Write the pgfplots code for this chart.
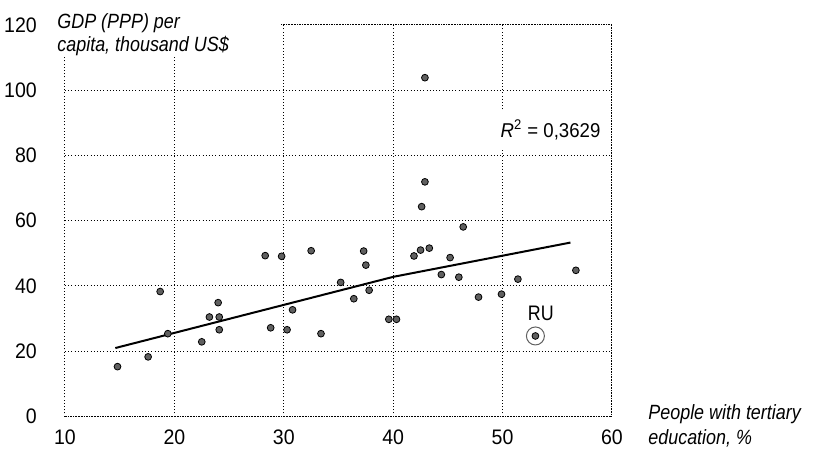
\documentclass[border=0pt]{standalone}
\usepackage{pgfplots}
\pgfplotsset{compat=1.18}
\usepackage{fontspec}
\setmainfont{Liberation Sans}
\newfontfamily\condlab{Liberation Sans}[FakeStretch=0.87]
\newfontfamily\condtick{Liberation Sans}[FakeStretch=0.93]
\newfontfamily\condru{Liberation Sans}[FakeStretch=0.85]
\definecolor{dotgray}{RGB}{96,96,96}
\pgfplotstableread{
x y
14.8 15.3
17.6 18.3
18.7 38.3
19.4 25.4
22.5 22.9
23.2 30.5
24.0 34.9
24.1 30.5
24.1 26.6
28.3 49.3
29.8 49.1
32.5 50.8
37.3 50.7
37.5 46.4
35.2 41.1
37.8 38.7
36.4 36.1
30.8 32.7
28.8 27.2
30.3 26.6
33.4 25.4
39.6 29.8
40.3 29.8
41.9 49.2
42.5 51.0
43.3 51.6
44.4 43.5
45.2 48.7
46.0 42.7
47.8 36.6
49.9 37.5
51.4 42.1
56.7 44.8
42.9 103.8
42.9 71.9
42.6 64.3
46.4 58.1
53.0 24.7
}\gdpdata
\pgfplotstableread{
x y
14.6 21.0
40.0 42.8
56.2 53.3
}\trenddata
\begin{document}
\begin{tikzpicture}[x=1pt,y=1pt]
\useasboundingbox (-32.5,-16.7) rectangle (375,208.3);
\begin{axis}[
  at={(0,0)}, anchor=south west,
  scale only axis, width=273.5pt, height=195.9pt,
  xmin=10, xmax=60, ymin=0, ymax=120,
  xtick={10,20,...,60}, ytick={0,20,...,120},
  grid=major,
  major grid style={black, line width=0.5pt, dash pattern=on 0.5pt off 1.1pt},
  axis line style={black, line width=0.5pt, dash pattern=on 0.5pt off 1.1pt},
  major tick length=0pt,
  tick label style={font=\condtick\fontsize{10.5}{12}\selectfont},
  /pgf/number format/assume math mode=true,
  yticklabel style={xshift=-10.6pt},
  xticklabel style={yshift=-3.3pt},
  clip=false,
]
\fill[white] (axis cs:9,110) rectangle (axis cs:29.7,125);
\addplot[black, line width=1pt] table[x=x,y=y] {\trenddata};
\addplot[only marks, mark=*, mark size=1.7pt, mark options={draw=none, fill=dotgray}] table[x=x,y=y] {\gdpdata};
\addplot[only marks, mark=o, mark size=4.5pt, mark options={draw=dotgray, line width=0.5pt, fill=none}] coordinates {(53.0,24.7)};
\node[font=\condru\fontsize{10.5}{12}\selectfont] at (axis cs:53.5,31.7) {RU};
\node[anchor=west, fill=white, inner xsep=1pt, inner ysep=4.5pt, font=\condtick\fontsize{10}{11}\selectfont] at (axis cs:49.6,87.8) {\textit{R}\textsuperscript{2} = 0,3629};
\end{axis}
\node[anchor=base west, inner sep=0pt, font=\condlab\fontsize{10.3}{11}\selectfont\itshape] at (-4,194) {GDP (PPP) per};
\node[anchor=base west, inner sep=0pt, font=\condlab\fontsize{10.3}{11}\selectfont\itshape] at (-4,182.3) {capita, thousand US\$};
\node[anchor=base west, inner sep=0pt, font=\condlab\fontsize{10.3}{11}\selectfont\itshape] at (291.5,-1.5) {People with tertiary};
\node[anchor=base west, inner sep=0pt, font=\condlab\fontsize{10.3}{11}\selectfont\itshape] at (291.5,-14) {education, \%};
\end{tikzpicture}
\end{document}
